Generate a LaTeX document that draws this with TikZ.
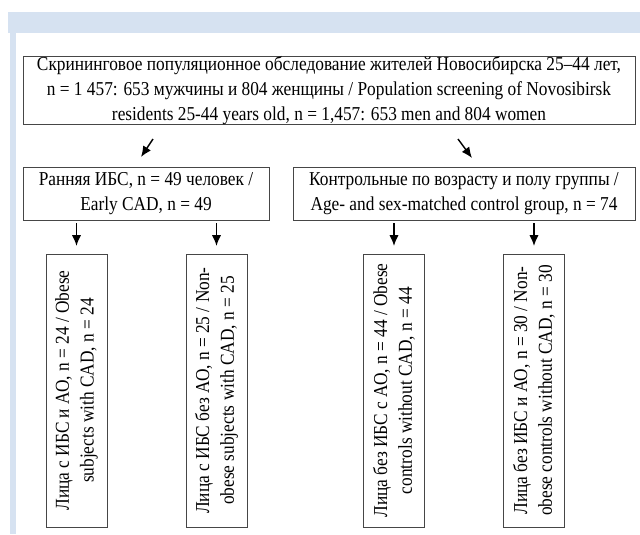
\documentclass[tikz,border=0pt]{standalone}
\usepackage{fontspec}
\setmainfont[FakeStretch=0.88]{Liberation Serif}
\usepackage{tikz}
\usetikzlibrary{positioning,arrows.meta}
\usepackage{xcolor}
\definecolor{FrameBlue}{RGB}{214, 226, 241}
\definecolor{BoxGray}{RGB}{70, 70, 70}

\begin{document}
\begin{tikzpicture}[every node/.style={font=\fontsize{14}{17.6}\selectfont,align=center},
    box/.style={draw=BoxGray,line width=0.7pt,inner sep=0pt,text=black},
    vbox/.style={box,rotate=90,minimum width=6.825cm,minimum height=1.525cm},
    arr/.style={-{Latex[length=2.7mm,width=2.3mm]},line width=1pt,black}]
    \useasboundingbox (0,0) rectangle (16,-13.35);
    \fill[FrameBlue] (0.2,-0.3) rectangle (16,-0.825);
    \fill[FrameBlue] (0.25,-0.825) rectangle (0.4,-13.35);
    \node[box,minimum width=15.3cm,minimum height=1.675cm] (screen) at (8.225,-2.2625) {Скрининговое популяционное обследование жителей Новосибирска 25–44 лет,\\n = 1 457: 653 мужчины и 804 женщины / Population screening of Novosibirsk\\residents 25-44 years old, n = 1,457: 653 men and 804 women};
    \node[box,minimum width=6.15cm,minimum height=1.325cm] (early) at (3.65,-4.8375) {Ранняя ИБС, n = 49 человек /\\Early CAD, n = 49};
    \node[box,minimum width=8.55cm,minimum height=1.325cm] (ctrl) at (11.6,-4.8375) {Контрольные по возрасту и полу группы /\\Age- and sex-matched control group, n = 74};
    \node[vbox] (cadao) at (1.9125,-9.7625) {Лица с ИБС и АО, n = 24 / Obese\\subjects with CAD, n = 24};
    \node[vbox] (cadnoao) at (5.4125,-9.7625) {Лица с ИБС без АО, n = 25 / Non-\\obese subjects with CAD, n = 25};
    \node[vbox] (ctrlao) at (9.85,-9.7625) {Лица без ИБС с АО, n = 44 / Obese\\controls without CAD, n = 44};
    \node[vbox] (ctrlnoao) at (13.35,-9.7625) {Лица без ИБС и АО, n = 30 / Non-\\obese controls without CAD, n = 30};
    % arrows between the rows
    \coordinate (s1) at (3.825,-3.475);
    \coordinate (e1) at (3.525,-3.925);
    \coordinate (s2) at (11.45,-3.475);
    \coordinate (e2) at (11.8,-3.95);
    \draw[arr] (s1) -- (e1);
    \draw[arr] (s2) -- (e2);
    \draw[arr] (cadao.east |- 0,-5.575) -- ++(0,-0.575);
    \draw[arr] (cadnoao.east |- 0,-5.575) -- ++(0,-0.575);
    \draw[arr] (ctrlao.east |- 0,-5.575) -- ++(0,-0.575);
    \draw[arr] (ctrlnoao.east |- 0,-5.575) -- ++(0,-0.575);
  \end{tikzpicture}
\end{document}
